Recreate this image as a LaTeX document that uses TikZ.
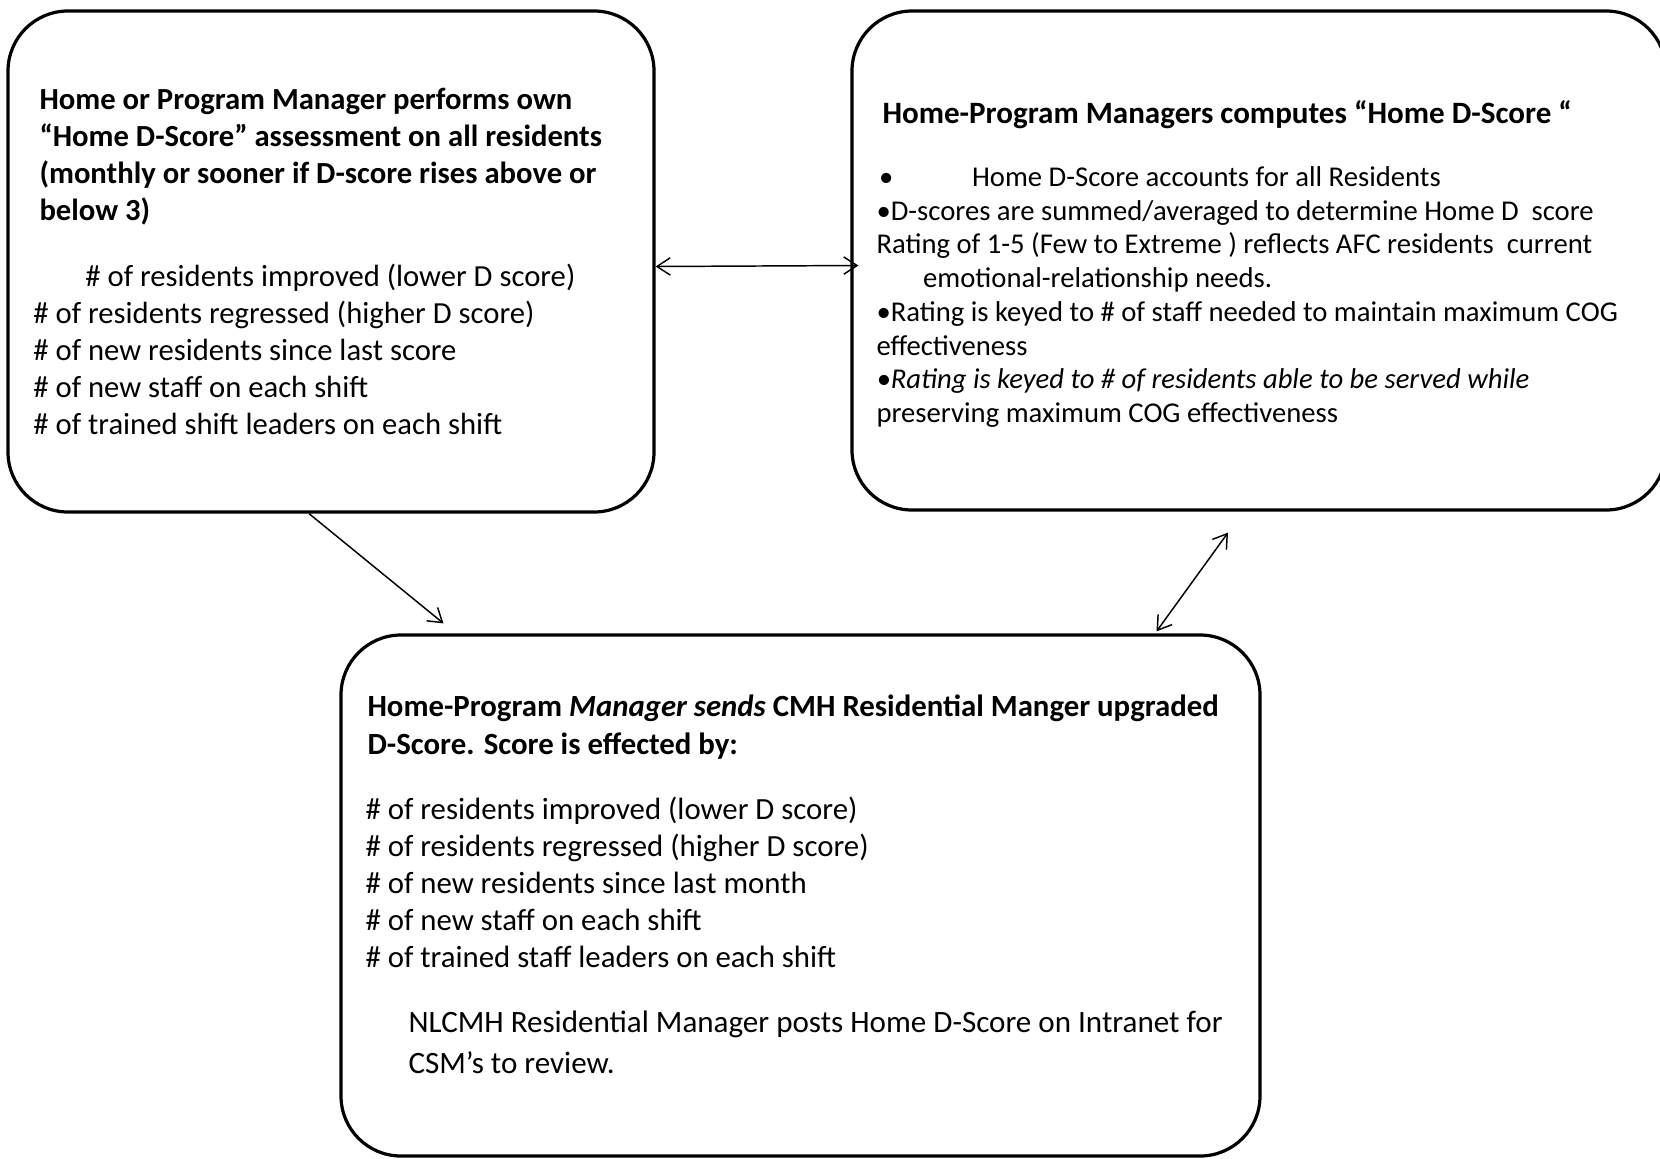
\documentclass[tikz,border=0pt]{standalone}
\usepackage{fontspec}
\setmainfont{Carlito}
\usetikzlibrary{arrows.meta,fit,calc}

\tikzset{every picture/.style={line width=0.75pt}}
\tikzset{
  box/.style={draw, line width=2.4pt, rounded corners=45pt, inner sep=0pt},
  txt/.style={anchor=north west, inner sep=0pt, align=left, font=\fontsize{23}{27.75}\selectfont},
  barb/.tip={Straight Barb[length=10pt,width=13pt]},
  link/.style={line width=1.1pt, -barb},
  twoway/.style={line width=1.1pt, barb-barb},
}

\begin{document}
\begin{tikzpicture}[x=0.75pt,y=0.75pt,yscale=-1,xscale=1]
\useasboundingbox (0,0) rectangle (1660,1158);

%Boxes
\node [box, fit={(8,11) (654,512)}] (lbox) {};
\node [box, fit={(852,11) (1666,510)}] (rbox) {};
\node [box, fit={(341,635) (1260,1156)}] (bbox) {};

% Text Node
\node [txt, font=\fontsize{23}{27.75}\selectfont\bfseries] (ltitle) at (39,88) {Home or Program Manager performs own\\“Home D-Score” assessment on all residents\\(monthly or sooner if D-score rises above or\\below 3)};
% Text Node
\node [txt] (litems) at (33,264) {\hspace*{39pt}\# of residents improved (lower D score)\\\# of residents regressed (higher D score)\\\# of new residents since last score\\\# of new staff on each shift\\\# of trained shift leaders on each shift};
% Text Node
\node [txt, font=\fontsize{23.3}{27.75}\selectfont\bfseries] (rtitle) at (882,100) {Home-Program Managers computes “Home D-Score “};
% Text Node
\node [txt, font=\fontsize{21.5}{25.3}\selectfont] (ritems) at (876,166) {\hspace*{2pt}•\hspace{59pt}Home D-Score accounts for all Residents\\•D-scores are summed/averaged to determine Home D\ \ score\\Rating of 1-5 (Few to Extreme ) reflects AFC residents\ \ current\\\hspace*{35pt}emotional-relationship needs.\\•Rating is keyed to \# of staff needed to maintain maximum COG\\effectiveness\\\textit{•Rating is keyed to \# of residents able to be served while}\\preserving maximum COG effectiveness};
% Text Node
\node [txt, font=\fontsize{23.1}{28.5}\selectfont\bfseries] (btitle) at (367,694) {Home-Program \textit{Manager sends} CMH Residential Manger upgraded\\D-Score. Score is effected by:};
% Text Node
\node [txt, font=\fontsize{23.1}{27.75}\selectfont] (bitems) at (365,796) {\# of residents improved (lower D score)\\\# of residents regressed (higher D score)\\\# of new residents since last month\\\# of new staff on each shift\\\# of trained staff leaders on each shift};
% Text Node
\node [txt, font=\fontsize{23.3}{30.75}\selectfont] (bnote) at (408,1010) {NLCMH Residential Manager posts Home D-Score on Intranet for\\CSM’s to review.};

%Arrows
\draw [twoway] ($(lbox.east)+(0,5)$) -- ($(rbox.west)+(8,5)$);
\draw [link] ($(lbox.south)+(-22,0)$) -- ($(bbox.north)+(-357,-10)$);
\draw [twoway] ($(rbox.south)+(-31,21)$) -- ($(bbox.north)+(356,-2)$);

\end{tikzpicture}
\end{document}
